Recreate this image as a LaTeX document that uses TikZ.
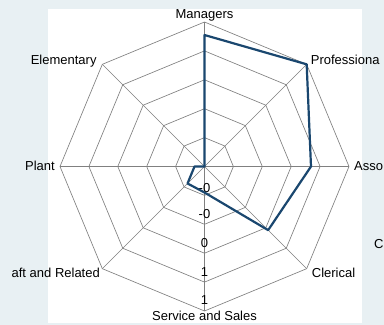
\documentclass[tikz,border=0pt]{standalone}
\usepackage{fontspec}
\setmainfont{Liberation Sans}
\usepackage{tikz}
\definecolor{bgblue}{RGB}{232,240,243}
\definecolor{datanavy}{RGB}{26,71,111}
\newcommand{\R}{144.5}

\begin{document}
\begin{tikzpicture}[
            x=1bp, y=1bp,
            gridline/.style={gray, line width=0.65bp},
            data/.style={datanavy, line width=2.2bp, line join=round},
            catlabel/.style={inner sep=0pt, font=\fontsize{13bp}{15bp}\selectfont},
            scalelabel/.style={catlabel, anchor=base}]

        \useasboundingbox (-204.5,-158.5) rectangle (179.5,166.5);
        \fill[bgblue] (-204.5,-158.5) rectangle (179.5,166.5);
        \fill[white] (-156.5,-156.5) rectangle (157.5,157.5);

        \path (0,0) coordinate (origin);
        \path (90:\R) coordinate (vManagers);
        \path (45:\R) coordinate (vProfessional);
        \path (0:\R) coordinate (vAssociate);
        \path (-45:\R) coordinate (vClerical);
        \path (-90:\R) coordinate (vService);
        \path (-135:\R) coordinate (vCraft);
        \path (180:\R) coordinate (vPlant);
        \path (135:\R) coordinate (vElementary);

        \foreach \k in {1,...,5} {
            \pgfmathsetmacro{\r}{\k*\R/5}
            \draw[gridline] (0:\r) -- (45:\r) -- (90:\r) -- (135:\r) -- (180:\r)
                -- (225:\r) -- (270:\r) -- (315:\r) -- cycle;
        }
        \foreach \v in {vManagers,vProfessional,vAssociate,vClerical,vService,vCraft,vPlant,vElementary}
            \draw[gridline] (origin) -- (\v);

        \node[scalelabel] (tick1) at (0,-25.5) {-0};
        \node[scalelabel] (tick2) at (0,-52.3) {-0};
        \node[scalelabel] (tick3) at (0,-81.3) {0};
        \node[scalelabel] (tick4) at (0,-109.7) {1};
        \node[scalelabel] (tick5) at (0,-138) {1};

        \path (90:131.5) coordinate (pManagers);
        \path (45:\R) coordinate (pProfessional);
        \path (0:106.5) coordinate (pAssociate);
        \path (-45:90) coordinate (pClerical);
        \path (-90:26) coordinate (pService);
        \path (-135:24) coordinate (pCraft);
        \path (180:10) coordinate (pPlant);
        \path (origin) coordinate (pElementary);

        \draw[data] (pManagers) -- (pProfessional) -- (pAssociate) -- (pClerical) -- (pService)
            -- (pCraft) -- (pPlant) -- (pElementary) -- cycle;

        \node[catlabel, anchor=base] (managers) at ([shift={(0,3.7)}]vManagers) {Managers};
        \node[catlabel, anchor=base west] (professional) at ([shift={(4,0.3)}]vProfessional) {Professiona};
        \node[catlabel, anchor=base west] (associate) at ([shift={(5,-4.2)}]vAssociate) {Asso};
        \node[catlabel, anchor=base west] (clerical) at ([shift={(5,-8.6)}]vClerical) {Clerical};
        \node[catlabel, anchor=base] (service) at ([shift={(0,-9)}]vService) {Service and Sales};
        \node[catlabel, anchor=base east] (craft) at ([shift={(-2.3,-8.6)}]vCraft) {aft and Related};
        \node[catlabel, anchor=base east] (plant) at ([shift={(-5,-4.2)}]vPlant) {Plant};
        \node[catlabel, anchor=base east] (elementary) at ([shift={(-5.6,0)}]vElementary) {Elementary};
        \node[catlabel, anchor=base west] (cutoff) at (169.5,-81.8) {C};
    \end{tikzpicture}
\end{document}
